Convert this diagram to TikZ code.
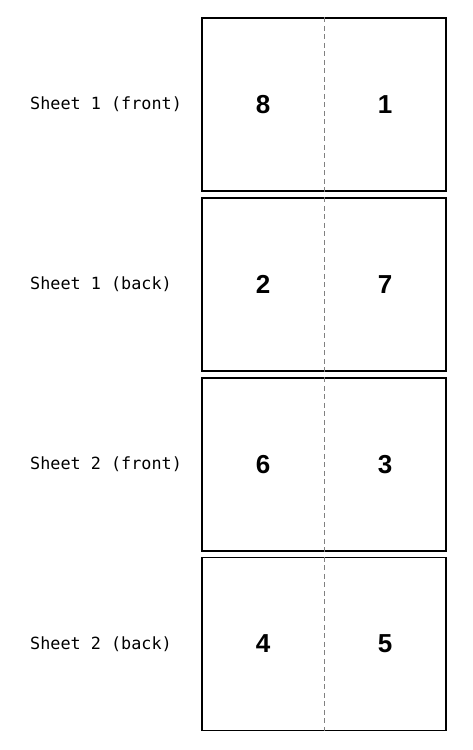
\documentclass[tikz,border=0pt]{standalone}
\usepackage{fontspec}
\setmainfont{Liberation Sans}
\setmonofont{DejaVu Sans Mono}
\usepackage{tikz}

\tikzset{
  sheet/.style={draw, line width=1.4pt, minimum width=244pt, minimum height=173pt, inner sep=0pt},
  page/.style={font=\fontsize{26}{26}\selectfont\bfseries},
  side/.style={anchor=west, inner sep=0pt, font=\fontsize{16.8}{17}\selectfont\ttfamily},
  fold/.style={draw=gray, dash pattern=on 5pt off 3.5pt, line width=0.8pt}
}

\begin{document}
\begin{tikzpicture}[x=1pt, y=-1pt]
  \useasboundingbox (0,0) rectangle (472,750);

  \node [sheet] (S1F) at (324,104.5) {};
  \node [side] (L1F) at (30,104.5) {Sheet 1 (front)};
  \node [page] (P8) at (263,104.5) {8};
  \node [page] (P1) at (385,104.5) {1};
  \draw [fold] (S1F.north) -- (S1F.south);

  \node [sheet] (S1B) at (324,284.5) {};
  \node [side] (L1B) at (30,284.5) {Sheet 1 (back)};
  \node [page] (P2) at (263,284.5) {2};
  \node [page] (P7) at (385,284.5) {7};
  \draw [fold] (S1B.north) -- (S1B.south);

  \node [sheet] (S2F) at (324,464.5) {};
  \node [side] (L2F) at (30,464.5) {Sheet 2 (front)};
  \node [page] (P6) at (263,464.5) {6};
  \node [page] (P3) at (385,464.5) {3};
  \draw [fold] (S2F.north) -- (S2F.south);

  \node [sheet] (S2B) at (324,644) {};
  \node [side] (L2B) at (30,644) {Sheet 2 (back)};
  \node [page] (P4) at (263,644) {4};
  \node [page] (P5) at (385,644) {5};
  \draw [fold] (S2B.north) -- (S2B.south);
\end{tikzpicture}
\end{document}
